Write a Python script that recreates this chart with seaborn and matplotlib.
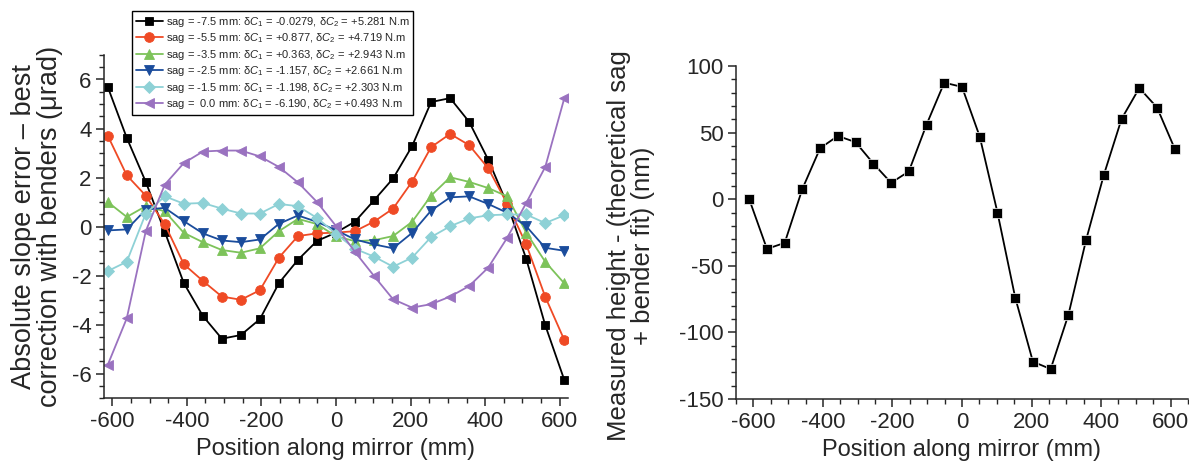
import numpy as np
import pandas as pd
import matplotlib
matplotlib.use("Agg")
import matplotlib.pyplot as plt
import seaborn as sns
from matplotlib.ticker import MultipleLocator

# ---------------- data ----------------
positions = [-612, -561, -510, -459, -408, -357, -306, -255, -204, -153, -102, -51, 0,
             51, 102, 153, 204, 255, 306, 357, 408, 459, 510, 561, 612]

sag_m75 = [5.70, 3.62, 1.82, -0.22, -2.31, -3.65, -4.58, -4.43, -3.78, -2.31, -1.36, -0.59, -0.25,
           0.20, 1.07, 1.96, 3.28, 5.08, 5.24, 4.27, 2.73, 0.91, -1.32, -4.03, -6.26]
sag_m55 = [3.71, 2.09, 1.26, 0.09, -1.54, -2.22, -2.86, -2.99, -2.60, -1.27, -0.39, -0.28, -0.25,
           -0.19, 0.20, 0.73, 1.83, 3.24, 3.78, 3.32, 2.38, 0.93, -0.73, -2.87, -4.63]
sag_m35 = [1.00, 0.39, 0.83, 0.62, -0.26, -0.64, -0.96, -1.07, -0.89, -0.19, 0.31, 0.10, -0.40,
           -0.60, -0.56, -0.39, 0.19, 1.26, 2.01, 1.82, 1.57, 1.23, -0.25, -1.44, -2.32]
sag_m25 = [-0.16, -0.12, 0.69, 0.76, 0.22, -0.28, -0.57, -0.64, -0.53, 0.11, 0.45, 0.19, -0.15,
           -0.53, -0.73, -0.89, -0.26, 0.65, 1.19, 1.23, 0.92, 0.56, 0.01, -0.87, -0.99]
sag_m15 = [-1.82, -1.44, 0.53, 1.23, 0.93, 0.96, 0.73, 0.53, 0.53, 0.92, 0.83, 0.35, -0.30,
           -0.91, -1.23, -1.64, -1.27, -0.43, 0.01, 0.33, 0.46, 0.49, 0.49, 0.14, 0.46]
sag_00 = [-5.65, -3.75, -0.19, 1.71, 2.59, 3.06, 3.10, 3.10, 2.86, 2.43, 1.80, 1.00, 0.02,
          -1.04, -2.02, -2.97, -3.31, -3.17, -2.86, -2.43, -1.68, -0.46, 0.96, 2.43, 5.23]

series_labels = [
    r"sag = -7.5 mm: $\mathrm{\delta}C_{1}$ = -0.0279, $\mathrm{\delta}C_{2}$ = +5.281 N.m",
    r"sag = -5.5 mm: $\mathrm{\delta}C_{1}$ = +0.877, $\mathrm{\delta}C_{2}$ = +4.719 N.m",
    r"sag = -3.5 mm: $\mathrm{\delta}C_{1}$ = +0.363, $\mathrm{\delta}C_{2}$ = +2.943 N.m",
    r"sag = -2.5 mm: $\mathrm{\delta}C_{1}$ = -1.157, $\mathrm{\delta}C_{2}$ = +2.661 N.m",
    r"sag = -1.5 mm: $\mathrm{\delta}C_{1}$ = -1.198, $\mathrm{\delta}C_{2}$ = +2.303 N.m",
    r"sag =  0.0 mm: $\mathrm{\delta}C_{1}$ = -6.190, $\mathrm{\delta}C_{2}$ = +0.493 N.m",
]
series_values = [sag_m75, sag_m55, sag_m35, sag_m25, sag_m15, sag_00]

height_residual = [0, -37.3, -32.8, 7.8, 38.3, 47.5, 42.8, 26.8, 12.3, 20.8, 56.0, 87.5, 84.3,
                   47.0, -10.0, -73.8, -122.0, -127.5, -86.8, -30.5, 18.3, 60.3, 83.5, 68.8, 37.8]

# ---------------- style ----------------
colors = ["#000000", "#ef4a25", "#7dc35a", "#1a4c9c", "#8ed1d6", "#9a72c0"]
markers = ["s", "o", "^", "v", "D", "<"]
msizes = [6.0, 7.0, 7.5, 7.5, 6.0, 7.5]

sns.set_style("ticks")
plt.rcParams["font.family"] = ["Liberation Sans", "DejaVu Sans"]
plt.rcParams["axes.unicode_minus"] = False
plt.rcParams["mathtext.fontset"] = "custom"
plt.rcParams["mathtext.rm"] = "Liberation Sans"
plt.rcParams["mathtext.it"] = "Liberation Sans:italic"
plt.rcParams["mathtext.default"] = "it"

W, H = 1189, 465
fig = plt.figure(figsize=(W / 100, H / 100), dpi=100)

def rect(x0, y0, x1, y1):
    return [x0 / W, 1 - y1 / H, (x1 - x0) / W, (y1 - y0) / H]

ax1 = fig.add_axes(rect(104, 55, 568, 398))
ax2 = fig.add_axes(rect(736, 66, 1188, 399))

for vals, lab, c, m, ms in zip(series_values, series_labels, colors, markers, msizes):
    sns.lineplot(x=positions, y=vals, ax=ax1, color=c, marker=m, markersize=ms,
                 markeredgecolor=c, markeredgewidth=0.6, linewidth=1.3, label=lab)

sns.lineplot(x=positions, y=height_residual, ax=ax2, color="black", marker="s",
             markersize=6.5, markeredgecolor="white", markeredgewidth=0.5, linewidth=1.3)

tick_fs = 16
label_fs = 17

for ax in (ax1, ax2):
    sns.despine(ax=ax)
    for sp in ("left", "bottom"):
        ax.spines[sp].set_linewidth(1.1)
    ax.tick_params(which="major", direction="out", length=6, width=1.1,
                   labelsize=tick_fs, pad=3)
    ax.tick_params(which="minor", direction="out", length=3.5, width=1.0)
    ax.set_xticks([-600, -400, -200, 0, 200, 400, 600])
    ax.xaxis.set_minor_locator(MultipleLocator(50))
    ax.set_xlabel("Position along mirror (mm)", fontsize=label_fs, labelpad=5)

ax1.set_xlim(-622, 622)
ax1.set_ylim(-7, 7)
ax1.set_yticks([-6, -4, -2, 0, 2, 4, 6])
ax1.yaxis.set_minor_locator(MultipleLocator(0.5))
ax1.set_ylabel("Absolute slope error \u2013 best\ncorrection with benders (\u03bcrad)",
               fontsize=19.5, linespacing=1.0)
ax1.yaxis.set_label_coords(-0.088, 0.5)

ax2.set_xlim(-650, 650)
ax2.set_ylim(-150, 100)
ax2.set_yticks([-150, -100, -50, 0, 50, 100])
ax2.yaxis.set_minor_locator(MultipleLocator(10))
ax2.set_ylabel("Measured height - (theoretical sag\n+ bender fit) (nm)",
               fontsize=18.5, linespacing=1.0)
ax2.yaxis.set_label_coords(-0.18, 0.46)

leg = ax1.legend(loc="upper left", bbox_to_anchor=(132 / W, 1 - 11 / H),
                 bbox_transform=fig.transFigure, fontsize=8.0, frameon=True,
                 fancybox=False, framealpha=1, edgecolor="black", borderaxespad=0,
                 handlelength=2.4, handletextpad=0.3, labelspacing=0.22, borderpad=0.35)
leg.get_frame().set_linewidth(1.0)

fig.savefig("out.png", dpi=100)
